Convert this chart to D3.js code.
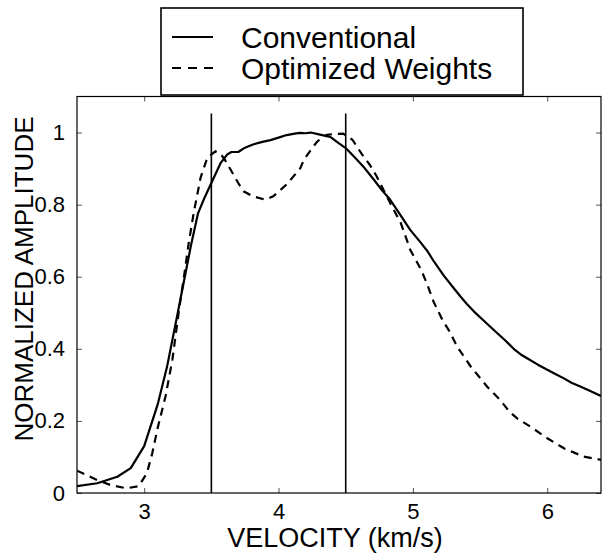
<!DOCTYPE html>
<html>
<head>
<meta charset="utf-8">
<script src="https://cdn.jsdelivr.net/npm/d3@7"></script>
<style>
  html, body { margin: 0; padding: 0; background: #fff; }
  svg { display: block; font-family: "Liberation Sans", Arial, sans-serif; }
</style>
</head>
<body>
<svg id="chart" width="602" height="554"></svg>
<script>
// ---- Data ----
const seriesNames = ["Conventional", "Optimized Weights"];

const convVelocity = [2.50, 2.65, 2.80, 2.90, 3.00, 3.10, 3.17, 3.25, 3.30, 3.35, 3.40, 3.45, 3.50, 3.57, 3.62, 3.65, 3.70, 3.75, 3.81, 3.88, 3.94, 4.00, 4.06, 4.12, 4.16, 4.20, 4.24, 4.30, 4.385, 4.45, 4.50, 4.57, 4.63, 4.71, 4.77, 4.83, 4.90, 4.98, 5.06, 5.11, 5.155, 5.23, 5.30, 5.354, 5.40, 5.453, 5.53, 5.60, 5.68, 5.75, 5.80, 5.85, 5.93, 6.00, 6.06, 6.124, 6.18, 6.25, 6.32, 6.40];
const convAmplitude = [0.019, 0.027, 0.045, 0.069, 0.13, 0.245, 0.35, 0.50, 0.595, 0.69, 0.775, 0.82, 0.86, 0.916, 0.94, 0.946, 0.946, 0.958, 0.967, 0.974, 0.979, 0.986, 0.993, 0.997, 0.999, 0.998, 1.0, 0.995, 0.988, 0.97, 0.957, 0.93, 0.906, 0.869, 0.84, 0.814, 0.775, 0.73, 0.694, 0.67, 0.643, 0.603, 0.57, 0.545, 0.525, 0.504, 0.477, 0.453, 0.426, 0.40, 0.385, 0.374, 0.356, 0.342, 0.330, 0.318, 0.306, 0.295, 0.283, 0.269];

const optVelocity = [2.50, 2.65, 2.75, 2.87, 2.96, 3.02, 3.06, 3.10, 3.16, 3.21, 3.26, 3.30, 3.33, 3.37, 3.42, 3.47, 3.53, 3.57, 3.60, 3.665, 3.70, 3.74, 3.81, 3.90, 3.96, 4.06, 4.16, 4.19, 4.26, 4.29, 4.36, 4.42, 4.48, 4.55, 4.62, 4.68, 4.73, 4.83, 4.91, 4.98, 5.06, 5.10, 5.155, 5.22, 5.27, 5.33, 5.43, 5.553, 5.65, 5.72, 5.776, 5.875, 6.00, 6.124, 6.27, 6.40];
const optAmplitude = [0.062, 0.036, 0.022, 0.013, 0.019, 0.055, 0.11, 0.18, 0.27, 0.37, 0.51, 0.61, 0.69, 0.78, 0.875, 0.93, 0.948, 0.94, 0.925, 0.883, 0.86, 0.837, 0.823, 0.814, 0.823, 0.856, 0.90, 0.925, 0.962, 0.976, 0.994, 0.996, 0.997, 0.98, 0.94, 0.91, 0.879, 0.805, 0.749, 0.675, 0.62, 0.585, 0.53, 0.48, 0.45, 0.406, 0.351, 0.295, 0.258, 0.225, 0.207, 0.184, 0.152, 0.124, 0.101, 0.092];

const markerVelocities = [3.5, 4.5];
const markerTop = 1.053;

const xTicks = [3, 4, 5, 6];
const yTicks = [0, 0.2, 0.4, 0.6, 0.8, 1];
const xDomain = [2.5, 6.4];
const yDomain = [0, 1.1];

// ---- Layout ----
const mLeft = 77, mRight = 601, mTop = 96.5, mBottom = 493;
const svg = d3.select("#chart");

const x = d3.scaleLinear().domain(xDomain).range([mLeft, mRight]);
const y = d3.scaleLinear().domain(yDomain).range([mBottom, mTop]);

svg.append("defs").append("clipPath").attr("id", "plotclip")
  .append("rect").attr("x", mLeft).attr("y", mTop).attr("width", mRight - mLeft).attr("height", mBottom - mTop);

// Axes with inward ticks
const tickLen = 5;
const fmtY = d => d === 0 ? "0" : (d === 1 ? "1" : d3.format(".1f")(d));

const axB = svg.append("g").attr("transform", `translate(0,${mBottom})`)
  .call(d3.axisBottom(x).tickValues(xTicks).tickSizeInner(-tickLen).tickSizeOuter(0).tickPadding(10).tickFormat(d3.format("d")));
const axT = svg.append("g").attr("transform", `translate(0,${mTop})`)
  .call(d3.axisTop(x).tickValues(xTicks).tickSizeInner(-tickLen).tickSizeOuter(0).tickFormat(""));
const axL = svg.append("g").attr("transform", `translate(${mLeft},0)`)
  .call(d3.axisLeft(y).tickValues(yTicks).tickSizeInner(-tickLen).tickSizeOuter(0).tickPadding(12).tickFormat(fmtY));
const axR = svg.append("g").attr("transform", `translate(${mRight},0)`)
  .call(d3.axisRight(y).tickValues(yTicks).tickSizeInner(-tickLen).tickSizeOuter(0).tickFormat(""));

[axB, axT, axL, axR].forEach(g => {
  g.select(".domain").remove();
  g.selectAll(".tick line").attr("stroke", "#555").attr("stroke-width", 1);
  g.selectAll("text").attr("fill", "#000").style("font-size", "22px").style("font-family", "'Liberation Sans', Arial, sans-serif");
});
axB.selectAll("text").attr("dy", "0.71em");

// Frame
svg.append("rect").attr("x", mLeft).attr("y", mTop).attr("width", mRight - mLeft).attr("height", mBottom - mTop)
  .attr("fill", "none").attr("stroke", "#000").attr("stroke-width", 1.2);

// Vertical marker lines
svg.append("g").selectAll("line").data(markerVelocities).join("line")
  .attr("x1", d => x(d)).attr("x2", d => x(d))
  .attr("y1", y(0)).attr("y2", y(markerTop))
  .attr("stroke", "#000").attr("stroke-width", 1.6);

// Curves
const line = d3.line().x(d => x(d[0])).y(d => y(d[1]));
const conv = convVelocity.map((v, i) => [v, convAmplitude[i]]);
const opt = optVelocity.map((v, i) => [v, optAmplitude[i]]);

const plot = svg.append("g").attr("clip-path", "url(#plotclip)");
plot.append("path").datum(conv).attr("d", line)
  .attr("fill", "none").attr("stroke", "#000").attr("stroke-width", 2.2).attr("stroke-linejoin", "round");
plot.append("path").datum(opt).attr("d", line)
  .attr("fill", "none").attr("stroke", "#000").attr("stroke-width", 2.2).attr("stroke-dasharray", "8,6");

// Axis labels
svg.append("text").attr("x", (mLeft + mRight) / 2 - 4).attr("y", 547)
  .attr("text-anchor", "middle").style("font-size", "27px").attr("fill", "#000")
  .text("VELOCITY (km/s)");
svg.append("text").attr("transform", `translate(33,279) rotate(-90)`)
  .attr("text-anchor", "middle").style("font-size", "26px").attr("fill", "#000")
  .text("NORMALIZED AMPLITUDE");

// Legend
const lg = svg.append("g");
lg.append("rect").attr("x", 161).attr("y", 8).attr("width", 362).attr("height", 87)
  .attr("fill", "#fff").attr("stroke", "#000").attr("stroke-width", 1.6);
const legendY = [37, 68];
const legendDash = [null, "9,7"];
seriesNames.forEach((name, i) => {
  lg.append("line").attr("x1", 172).attr("x2", 213).attr("y1", legendY[i]).attr("y2", legendY[i])
    .attr("stroke", "#000").attr("stroke-width", 2.2).attr("stroke-dasharray", legendDash[i]);
  lg.append("text").attr("x", 241).attr("y", legendY[i] + 11)
    .style("font-size", "30px").attr("fill", "#000").text(name);
});
</script>
</body>
</html>
